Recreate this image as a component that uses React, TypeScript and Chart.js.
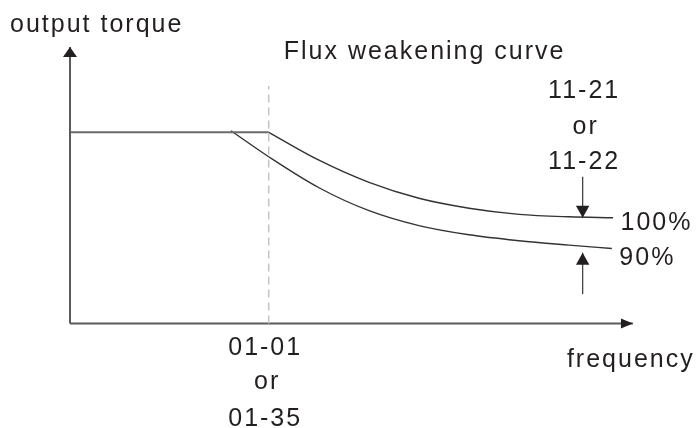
import React, { useEffect, useRef } from "react";
import { Chart, registerables } from "chart.js";

Chart.register(...registerables);

// ---- data (frequency in multiples of base frequency 01-01, torque in p.u. of rated) ----
const baseFrequency = 1.0; // 01-01 / 01-35
const ratedTorque = 1.0;
const freqAxisEnd = 2.833;
const torqueAxisEnd = 1.446;
const baseMarkerTop = 1.242;

const constTorqueX = [0, 1.0];
const constTorqueY = [1.0, 1.0];

const curve100X = [1.0, 1.253, 1.505, 1.756, 2.008, 2.26, 2.511, 2.733];
const curve100Y = [1.0, 0.854, 0.738, 0.655, 0.603, 0.571, 0.558, 0.553];

const curve90X = [0.81, 1.0, 1.253, 1.505, 1.756, 2.008, 2.26, 2.511, 2.727];
const curve90Y = [1.008, 0.872, 0.71, 0.59, 0.512, 0.464, 0.433, 0.41, 0.392];

const gainArrowX = 2.58;
const downArrowY = [0.768, 0.553];
const upArrowY = [0.154, 0.37];

const textLabels = {
  yAxis: "output torque",
  xAxis: "frequency",
  title: "Flux weakening curve",
  gainParam: ["11-21", "or", "11-22"],
  baseParam: ["01-01", "or", "01-35"],
  pct100: "100%",
  pct90: "90%",
};

const zip = (xs: number[], ys: number[]) => xs.map((x, i) => ({ x, y: ys[i] }));

const FONT = "'Liberation Sans', Arial, sans-serif";
const TEXT = "#231f20";

const annotationPlugin = {
  id: "annots",
  afterDatasetsDraw(chart: any) {
    const ctx = chart.ctx;
    const xs = chart.scales.x;
    const ys = chart.scales.y;
    const P = (x: number, y: number) => [xs.getPixelForValue(x), ys.getPixelForValue(y)];

    // arrowheads at the end of flagged datasets
    chart.data.datasets.forEach((ds: any, i: number) => {
      if (!ds.arrowHead) return;
      const meta = chart.getDatasetMeta(i);
      const pts = meta.data;
      const tip = pts[pts.length - 1];
      const prev = pts[pts.length - 2];
      const dx = tip.x - prev.x;
      const dy = tip.y - prev.y;
      const len = Math.hypot(dx, dy);
      const ux = dx / len, uy = dy / len;
      const { length, half } = ds.arrowHead;
      const bx = tip.x - ux * length, by = tip.y - uy * length;
      ctx.save();
      ctx.fillStyle = TEXT;
      ctx.beginPath();
      ctx.moveTo(tip.x, tip.y);
      ctx.lineTo(bx - uy * half, by + ux * half);
      ctx.lineTo(bx + uy * half, by - ux * half);
      ctx.closePath();
      ctx.fill();
      ctx.restore();
    });

    const items: Array<[string, number, number, number, number, CanvasTextAlign, number]> = [];
    const [yax, yay] = P(0, torqueAxisEnd);
    items.push([textLabels.yAxis, yax, yay, -60, -15, "left", 25]);
    const [tx, ty] = P(baseFrequency, baseMarkerTop);
    items.push([textLabels.title, tx, ty, 15, -27, "left", 25]);
    const [gx, gy] = P(gainArrowX, downArrowY[0]);
    items.push([textLabels.gainParam[0], gx, gy, 1.5, -79, "center", 25]);
    items.push([textLabels.gainParam[1], gx, gy, 3, -43, "center", 25]);
    items.push([textLabels.gainParam[2], gx, gy, 1.5, -8, "center", 25]);
    const [c1x, c1y] = P(curve100X[curve100X.length - 1], curve100Y[curve100Y.length - 1]);
    items.push([textLabels.pct100, c1x, c1y, 7.5, 12, "left", 25]);
    const [c2x, c2y] = P(curve90X[curve90X.length - 1], curve90Y[curve90Y.length - 1]);
    items.push([textLabels.pct90, c2x, c2y, 7.5, 16, "left", 25]);
    const [bx0, by0] = P(baseFrequency, 0);
    items.push([textLabels.baseParam[0], bx0, by0, -3.5, 31.5, "center", 25]);
    items.push([textLabels.baseParam[1], bx0, by0, -1.5, 65.5, "center", 25]);
    items.push([textLabels.baseParam[2], bx0, by0, -3.5, 102.5, "center", 25]);
    const [fx, fy] = P(freqAxisEnd, 0);
    items.push([textLabels.xAxis, fx, fy, -66, 43.5, "left", 25]);

    ctx.save();
    ctx.fillStyle = TEXT;
    ctx.textBaseline = "alphabetic";
    (ctx as any).letterSpacing = "2px";
    for (const [t, x, y, dx, dy, align, size] of items) {
      ctx.font = `${size}px ${FONT}`;
      ctx.textAlign = align;
      ctx.fillText(t, x + dx, y + dy);
    }
    ctx.restore();
  },
};

export default function App() {
  const ref = useRef<HTMLCanvasElement | null>(null);

  useEffect(() => {
    if (!ref.current) return;
    const axisStyle = { borderColor: "#5a5a5a", borderWidth: 2, pointRadius: 0, showLine: true };
    const chart = new Chart(ref.current, {
      type: "scatter",
      data: {
        datasets: [
          {
            label: "base frequency",
            data: [{ x: baseFrequency, y: 0 }, { x: baseFrequency, y: baseMarkerTop }],
            borderColor: "#c4c4c4",
            borderWidth: 1.5,
            borderDash: [8, 5],
            pointRadius: 0,
            showLine: true,
          },
          {
            label: "y axis",
            data: [{ x: 0, y: 0 }, { x: 0, y: torqueAxisEnd }],
            ...axisStyle,
            arrowHead: { length: 10, half: 7 },
          } as any,
          {
            label: "x axis",
            data: [{ x: 0, y: 0 }, { x: freqAxisEnd, y: 0 }],
            ...axisStyle,
            arrowHead: { length: 12, half: 5 },
          } as any,
          {
            label: "constant torque",
            data: zip(constTorqueX, constTorqueY.map((v) => v * ratedTorque)),
            borderColor: "#6a6a6a",
            borderWidth: 2,
            pointRadius: 0,
            showLine: true,
          },
          {
            label: "100%",
            data: zip(curve100X, curve100Y),
            borderColor: "#333333",
            borderWidth: 1.4,
            pointRadius: 0,
            showLine: true,
            cubicInterpolationMode: "monotone",
          },
          {
            label: "90%",
            data: zip(curve90X, curve90Y),
            borderColor: "#333333",
            borderWidth: 1.4,
            pointRadius: 0,
            showLine: true,
            cubicInterpolationMode: "monotone",
          },
          {
            label: "down arrow",
            data: downArrowY.map((y) => ({ x: gainArrowX, y })),
            borderColor: "#444444",
            borderWidth: 1.3,
            pointRadius: 0,
            showLine: true,
            arrowHead: { length: 12, half: 6.7 },
          } as any,
          {
            label: "up arrow",
            data: upArrowY.map((y) => ({ x: gainArrowX, y })),
            borderColor: "#444444",
            borderWidth: 1.3,
            pointRadius: 0,
            showLine: true,
            arrowHead: { length: 12, half: 6.7 },
          } as any,
        ],
      },
      options: {
        responsive: false,
        animation: false,
        events: [],
        devicePixelRatio: 1,
        layout: { padding: 0 },
        plugins: { legend: { display: false }, tooltip: { enabled: false } },
        scales: {
          x: { type: "linear", min: -0.3523, max: 3.1706, display: false },
          y: { type: "linear", min: -0.5465, max: 1.692, display: false },
        },
      },
      plugins: [annotationPlugin],
    });
    return () => chart.destroy();
  }, []);

  return (
    <div style={{ position: "fixed", left: 0, top: 0, width: 700, height: 428, background: "#fff" }}>
      <canvas ref={ref} width={700} height={428} style={{ display: "block" }} />
    </div>
  );
}
